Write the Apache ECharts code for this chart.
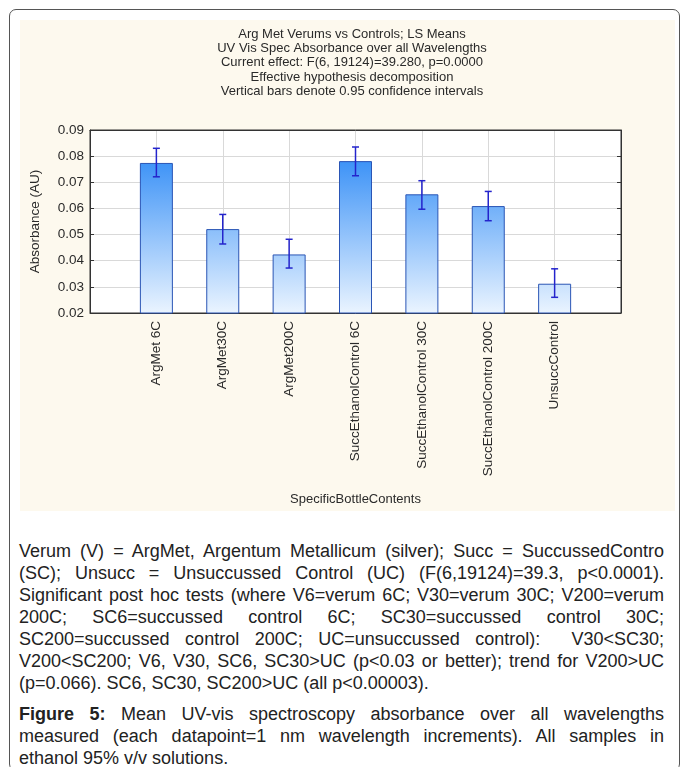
<!DOCTYPE html>
<html>
<head>
<meta charset="utf-8">
<script src="https://cdn.jsdelivr.net/npm/echarts@6/dist/echarts.min.js"></script>
<style>
  html, body { margin: 0; padding: 0; background: #ffffff; }
  body { width: 683px; height: 767px; position: relative; overflow: hidden;
         font-family: "Liberation Sans", Arial, sans-serif; color: #222; }
  #frame { position: absolute; left: 9px; top: 9px; width: 671px; height: 762px;
           border: 1.3px solid #555; border-radius: 7px; box-sizing: border-box; }
  #chart { position: absolute; left: 20px; top: 20px; width: 655px; height: 491px;
           background: #fdf9ee; }
  .caption { position: absolute; left: 19px; width: 645px; font-size: 18px; line-height: 22px; }
  .caption div { white-space: nowrap; text-align: justify; text-align-last: justify; }
  .caption div.last { text-align-last: left; }
  #notes { top: 540px; }
  #fig { top: 703px; }
</style>
</head>
<body>
<div id="frame"></div>
<div id="chart"></div>
<div class="caption" id="notes">
  <div>Verum (V) = ArgMet, Argentum Metallicum (silver); Succ = SuccussedContro</div>
  <div>(SC); Unsucc = Unsuccussed Control (UC) (F(6,19124)=39.3, p&lt;0.0001).</div>
  <div>Significant post hoc tests (where V6=verum 6C; V30=verum 30C; V200=verum</div>
  <div>200C; SC6=succussed control 6C; SC30=succussed control 30C;</div>
  <div>SC200=succussed control 200C; UC=unsuccussed control):&nbsp; V30&lt;SC30;</div>
  <div>V200&lt;SC200; V6, V30, SC6, SC30&gt;UC (p&lt;0.03 or better); trend for V200&gt;UC</div>
  <div class="last">(p=0.066). SC6, SC30, SC200&gt;UC (all p&lt;0.00003).</div>
</div>
<div class="caption" id="fig">
  <div><b>Figure 5:</b> Mean UV-vis spectroscopy absorbance over all wavelengths</div>
  <div>measured (each datapoint=1 nm wavelength increments). All samples in</div>
  <div class="last">ethanol 95% v/v solutions.</div>
</div>
<script>
// LS means of absorbance per bottle content, with 0.95 confidence limits
const categories = ['ArgMet 6C', 'ArgMet30C', 'ArgMet200C', 'SuccEthanolControl 6C',
                    'SuccEthanolControl 30C', 'SuccEthanolControl 200C', 'UnsuccControl'];
const means = [0.0774, 0.0521, 0.0424, 0.0781, 0.0654, 0.0609, 0.0312];
const ciLow = [0.0721, 0.0464, 0.0372, 0.0725, 0.0597, 0.0553, 0.0260];
const ciHigh = [0.0830, 0.0577, 0.0482, 0.0835, 0.0706, 0.0665, 0.0369];
const yTicks = [0.02, 0.03, 0.04, 0.05, 0.06, 0.07, 0.08, 0.09];

const titleLines = [
  'Arg Met Verums vs Controls; LS Means',
  'UV Vis Spec Absorbance over all Wavelengths',
  'Current effect: F(6, 19124)=39.280, p=0.0000',
  'Effective hypothesis decomposition',
  'Vertical bars denote 0.95 confidence intervals'
];

const GRID = { left: 68, top: 110, right: 54, bottom: 198 };
const chartEl = document.getElementById('chart');
const chart = echarts.init(chartEl, null, { renderer: 'canvas' });
const plotBottom = chartEl.clientHeight - GRID.bottom;

// pad the category axis with an empty slot at each end so bars sit on the gridlines
const xCats = [''].concat(categories, ['']);
const barData = ['-'].concat(means, ['-']);
const errData = categories.map((c, i) => [i + 1, ciLow[i], ciHigh[i]]);

const fontFamily = '"Liberation Sans", Arial, sans-serif';
const textColor = '#2a2a2a';

chart.setOption({
  animation: false,
  textStyle: { fontFamily: fontFamily },
  title: {
    text: titleLines.join('\n'),
    left: 332, top: 7, padding: 0, textAlign: 'center',
    textStyle: { fontSize: 13, fontWeight: 'normal', color: textColor, lineHeight: 14.3, fontFamily: fontFamily }
  },
  grid: {
    left: GRID.left, top: GRID.top, right: GRID.right, bottom: GRID.bottom,
    show: true, backgroundColor: '#ffffff', borderColor: '#333333', borderWidth: 1
  },
  xAxis: [{
    type: 'category', data: xCats, boundaryGap: false,
    name: 'SpecificBottleContents', nameLocation: 'middle', nameGap: 180,
    nameTextStyle: { fontSize: 13, color: textColor },
    axisLine: { lineStyle: { color: '#333333' } },
    axisTick: { inside: true, length: 3, lineStyle: { color: '#333333' } },
    axisLabel: { rotate: 90, fontSize: 13.5, color: textColor, margin: 8, interval: 0 },
    splitLine: { show: true, lineStyle: { color: '#d9d9d9' } }
  }, {
    type: 'category', data: xCats, boundaryGap: false, position: 'top',
    axisLine: { lineStyle: { color: '#333333' } },
    axisTick: { show: false }, axisLabel: { show: false }, splitLine: { show: false }
  }],
  yAxis: [{
    type: 'value', min: 0.02, max: 0.09, interval: 0.01,
    name: 'Absorbance (AU)', nameLocation: 'middle', nameGap: 48,
    nameTextStyle: { fontSize: 13.5, color: textColor },
    axisLine: { show: true, lineStyle: { color: '#333333' } },
    axisTick: { show: true, inside: true, length: 4, lineStyle: { color: '#333333' } },
    axisLabel: { fontSize: 13.5, color: textColor, margin: 6, formatter: v => v.toFixed(2) },
    splitLine: { show: true, lineStyle: { color: '#d9d9d9' } }
  }, {
    type: 'value', min: 0.02, max: 0.09, interval: 0.01, position: 'right',
    axisLine: { show: true, lineStyle: { color: '#333333' } },
    axisTick: { show: true, inside: true, length: 4, lineStyle: { color: '#333333' } },
    axisLabel: { show: false }, splitLine: { show: false }
  }],
  series: [{
    type: 'bar', data: barData, barWidth: 33, xAxisIndex: 0, yAxisIndex: 0,
    itemStyle: {
      borderColor: '#2a55b5', borderWidth: 1,
      color: new echarts.graphic.LinearGradient(0, GRID.top, 0, plotBottom, [
        { offset: 0, color: '#1a7ff5' },
        { offset: 1, color: '#eaf4ff' }
      ], true)
    },
    z: 2
  }, {
    type: 'custom', data: errData, xAxisIndex: 0, yAxisIndex: 0, z: 5,
    renderItem: function (params, api) {
      const lo = api.coord([api.value(0), api.value(1)]);
      const hi = api.coord([api.value(0), api.value(2)]);
      const cap = 3.5;
      const style = { stroke: '#2424cc', lineWidth: 1.5 };
      return {
        type: 'group',
        children: [
          { type: 'line', shape: { x1: lo[0], y1: lo[1], x2: hi[0], y2: hi[1] }, style: style },
          { type: 'line', shape: { x1: lo[0] - cap, y1: lo[1], x2: lo[0] + cap, y2: lo[1] }, style: style },
          { type: 'line', shape: { x1: hi[0] - cap, y1: hi[1], x2: hi[0] + cap, y2: hi[1] }, style: style }
        ]
      };
    }
  }]
});
</script>
</body>
</html>
